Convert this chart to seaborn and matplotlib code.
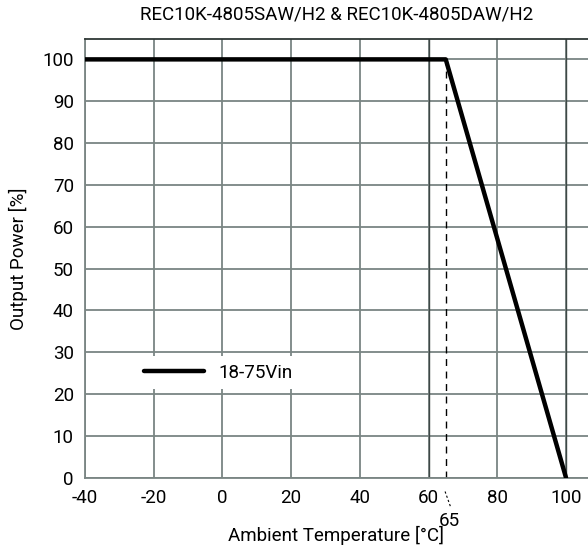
import matplotlib
matplotlib.use("Agg")
import matplotlib.pyplot as plt
import seaborn as sns
import pandas as pd

temps = [-40, 65, 100]
power = [100, 100, 0]
series_name = "18-75Vin"
xticks = [-40, -20, 0, 20, 40, 60, 80, 100]
yticks = [0, 10, 20, 30, 40, 50, 60, 70, 80, 90, 100]
title = "REC10K-4805SAW/H2 & REC10K-4805DAW/H2"
xlabel = "Ambient Temperature [°C]"
ylabel = "Output Power [%]"
derate_x = 65

sns.set_style("white")
plt.rcParams['font.family'] = ['Roboto', 'DejaVu Sans']
plt.rcParams['axes.unicode_minus'] = False
plt.rcParams['text.color'] = 'black'
plt.rcParams['axes.labelcolor'] = 'black'

fig = plt.figure(figsize=(5.88, 5.56), dpi=100)
ax = fig.add_axes([85/588, 78.3/556, 1 - 85/588, (516.7 - 78.3)/556])

df = pd.DataFrame({"T": temps, "P": power, "s": series_name})

ax.set_xlim(-40, 106.4)
ax.set_ylim(0, 104.8)
ax.set_xticks(xticks)
ax.set_yticks(yticks)
ax.grid(True, color="#7a8583", linewidth=1.3)
ax.set_axisbelow(True)
for s in ["left", "bottom", "top"]:
    ax.spines[s].set_linewidth(1.3)
ax.spines["top"].set_color("#2f3836")
ax.spines["bottom"].set_color("#7a8583")
ax.spines["left"].set_color("#7a8583")
ax.spines["right"].set_visible(False)
for xv in [60, 100]:
    ax.axvline(xv, color="#3e4846", linewidth=1.0, zorder=1)

ax.plot([derate_x, derate_x], [0, 100], color="black", linestyle=(0, (5, 4)), linewidth=1.0, zorder=2)

sns.lineplot(data=df, x="T", y="P", hue="s", palette=["black"], linewidth=3.2, ax=ax, zorder=3)

ax.tick_params(axis="both", length=0, labelsize=13.5, colors="black")
ax.tick_params(axis="x", pad=8)
ax.tick_params(axis="y", pad=8)

ax.set_xlabel(xlabel, fontsize=13.5, labelpad=14)
ax.set_ylabel(ylabel, fontsize=13.5, labelpad=10)
ax.set_title(title, fontsize=13.5, pad=14)

ax.plot([64.8, 66.5], [-3.3, -7.2], color="black", linestyle=(0, (2, 2)), linewidth=0.8, clip_on=False)
ax.text(65.9, -10.3, str(derate_x), ha="center", va="center", fontsize=13.5)

leg = ax.legend(loc="center", bbox_to_anchor=(0.265, 0.239), frameon=True, framealpha=1,
                facecolor="white", edgecolor="white", fontsize=13.5, handlelength=3.2,
                borderpad=0.4, handletextpad=0.8, fancybox=False)
leg.get_frame().set_linewidth(0)

fig.savefig("out.png", dpi=100)
